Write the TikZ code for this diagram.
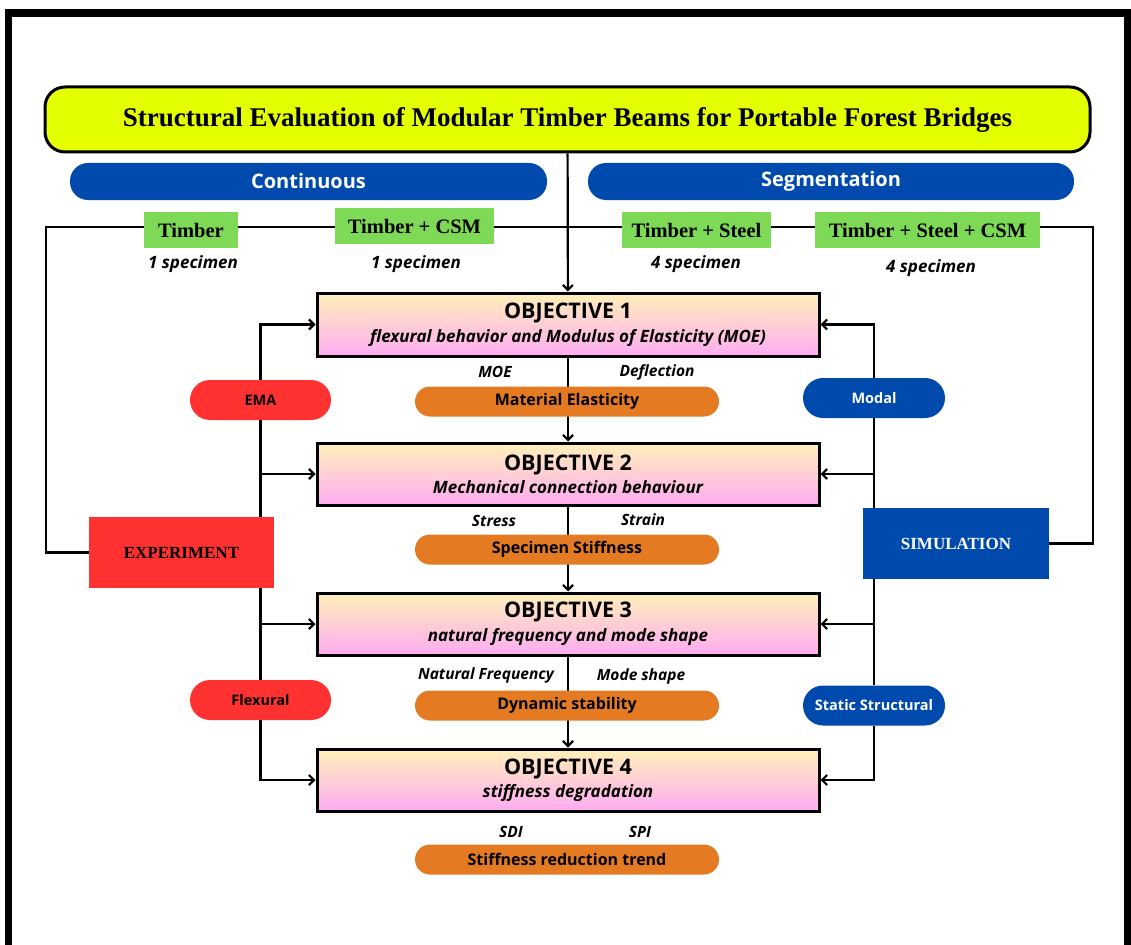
\documentclass[tikz,border=0pt]{standalone}
\usepackage{fontspec}
\setmainfont{Liberation Serif}
\setsansfont{Open Sans}
\usetikzlibrary{arrows.meta,positioning,backgrounds}
\definecolor{ttlyellow}{RGB}{228,255,0}
\definecolor{cblue}{RGB}{0,74,173}
\definecolor{cgreen}{RGB}{126,217,87}
\definecolor{cred}{RGB}{255,49,49}
\definecolor{corange}{RGB}{228,123,34}
\definecolor{objtop}{RGB}{255,240,185}
\definecolor{objbot}{RGB}{255,172,242}

\newcommand{\objtext}[2]{{\fontsize{21.5}{23}\selectfont\bfseries OBJECTIVE #1}\\[5pt]{\fontsize{17}{19}\selectfont\bfseries\itshape #2}}

\tikzset{
  conn/.style={line width=2.2pt, black},
  arr/.style={conn, -{Straight Barb[length=5pt,width=10pt]}},
  objbox/.style={draw, line width=3pt, top color=objtop, bottom color=objbot, minimum width=502pt, minimum height=62pt, inner sep=0pt, align=center, font=\sffamily},
  grpill/.style={fill=cblue, rounded corners=18pt, minimum height=37pt, text=white, font=\sffamily\bfseries\fontsize{20}{22}\selectfont},
  matbox/.style={fill=cgreen, minimum height=36pt, inner sep=0pt, font=\bfseries\fontsize{20.5}{22}\selectfont},
  speclbl/.style={font=\sffamily\bfseries\itshape\fontsize{17}{19}\selectfont},
  outpill/.style={fill=corange, rounded corners=15pt, minimum width=304pt, minimum height=30pt, font=\sffamily\bfseries\fontsize{16}{18}\selectfont},
  varlbl/.style={font=\sffamily\bfseries\itshape\fontsize{15.5}{17}\selectfont},
  redpill/.style={fill=cred, rounded corners=20pt, minimum width=141pt, minimum height=40pt, font=\sffamily\bfseries\fontsize{14.5}{16}\selectfont},
  bluepill/.style={fill=cblue, rounded corners=20pt, minimum width=142pt, minimum height=40pt, text=white, font=\sffamily\bfseries\fontsize{14.5}{16}\selectfont},
  methbox/.style={minimum width=185pt, minimum height=71pt, font=\bfseries\fontsize{17}{19}\selectfont}
}

\begin{document}
\begin{tikzpicture}[x=1pt,y=-1pt]
  \useasboundingbox (0,0) rectangle (1131,944);
  \begin{scope}[on background layer]
    \fill[white] (0,0) rectangle (1131,944);
  \end{scope}
  \clip (0,0) rectangle (1131,944);
  \draw[line width=7.5pt] (8.5,13) rectangle (1127.5,1000);

  %% Title
  \node[draw, line width=3pt, fill=ttlyellow, rounded corners=20pt, minimum width=1045pt, minimum height=65pt, font=\bfseries\fontsize{27}{29}\selectfont] (title) at (567.5,119.5) {Structural Evaluation of Modular Timber Beams for Portable Forest Bridges};

  %% Beam groups
  \node[grpill, minimum width=477pt] (cont) at (308.5,181.5) {Continuous};
  \node[grpill, minimum width=486pt] (seg)  at (831,181.5) {Segmentation};

  %% Materials
  \node[matbox, minimum width=94pt]  (timber) at (191,230)   {Timber};
  \node[matbox, minimum width=159pt] (tcsm)   at (414.5,226) {Timber + CSM};
  \node[matbox, minimum width=149pt] (tsteel) at (696.5,230) {Timber + Steel};
  \node[matbox, minimum width=225pt] (tsc)    at (927.5,230) {Timber + Steel + CSM};
  \node[speclbl] (spec1) at (193,264) {1 specimen};
  \node[speclbl] (spec2) at (416,264) {1 specimen};
  \node[speclbl] (spec3) at (696,264) {4 specimen};
  \node[speclbl] (spec4) at (931,268) {4 specimen};
  \coordinate (rowL) at (46,227);
  \coordinate (rowR) at (1093,227);

  %% Objectives
  \node[objbox, minimum height=63pt] (obj1) at (568,324.5) {\objtext{1}{flexural behavior and Modulus of Elasticity (MOE)}};
  \node[objbox] (obj2) at (568,474) {\objtext{2}{Mechanical connection behaviour}};
  \node[objbox] (obj3) at (568,624) {\objtext{3}{natural frequency and mode shape}};
  \node[objbox] (obj4) at (568,780) {\objtext{4}{stiffness degradation}};

  %% Outcomes
  \node[outpill] (out1) at (567,401.5) {Material Elasticity};
  \node[outpill] (out2) at (567,549.5) {Specimen Stiffness};
  \node[outpill] (out3) at (567,705.5) {Dynamic stability};
  \node[outpill] (out4) at (567,859.5) {Stiffness reduction trend};
  \node[varlbl] (moe)   at (495,372) {MOE};
  \node[varlbl] (defl)  at (657,372) {Deflection};
  \node[varlbl] (strs)  at (494,521) {Stress};
  \node[varlbl] (strn)  at (643,520) {Strain};
  \node[varlbl] (nfreq) at (486,675) {Natural Frequency};
  \node[varlbl] (mshp)  at (641,676) {Mode shape};
  \node[varlbl] (sdi)   at (511,832) {SDI};
  \node[varlbl] (spi)   at (640,832) {SPI};

  %% Experiment side
  \node[redpill] (ema)  at (260.5,400) {EMA};
  \node[redpill] (flex) at (260.5,700) {Flexural};
  \node[methbox, fill=cred] (expt) at (181.5,552.5) {EXPERIMENT};

  %% Simulation side
  \node[bluepill] (modal) at (874,398)   {Modal};
  \node[bluepill] (stat)  at (874,705.5) {Static Structural};
  \node[methbox, fill=cblue, minimum width=186pt, text=white] (simu) at (956,543.5) {SIMULATION};

  %% Connectors
  \begin{scope}[on background layer]
    \draw[arr] (title) -- (obj1);
    \draw[conn] (expt.west) -| (rowL) -- (rowR) |- (simu.east);
    \draw[arr] (obj1) -- (obj2);
    \draw[arr] (obj2) -- (obj3);
    \draw[arr] (obj3) -- (obj4);
    \draw[conn] (ema) -- (flex);
    \draw[arr] (ema) |- (obj1.west);
    \draw[arr] (ema) |- (obj2.west);
    \draw[arr] (flex) |- (obj3.west);
    \draw[arr] (flex) |- (obj4.west);
    \draw[conn] (modal) -- (stat);
    \draw[arr] (modal) |- (obj1.east);
    \draw[arr] (modal) |- (obj2.east);
    \draw[arr] (stat) |- (obj3.east);
    \draw[arr] (stat) |- (obj4.east);
  \end{scope}
\end{tikzpicture}
\end{document}
